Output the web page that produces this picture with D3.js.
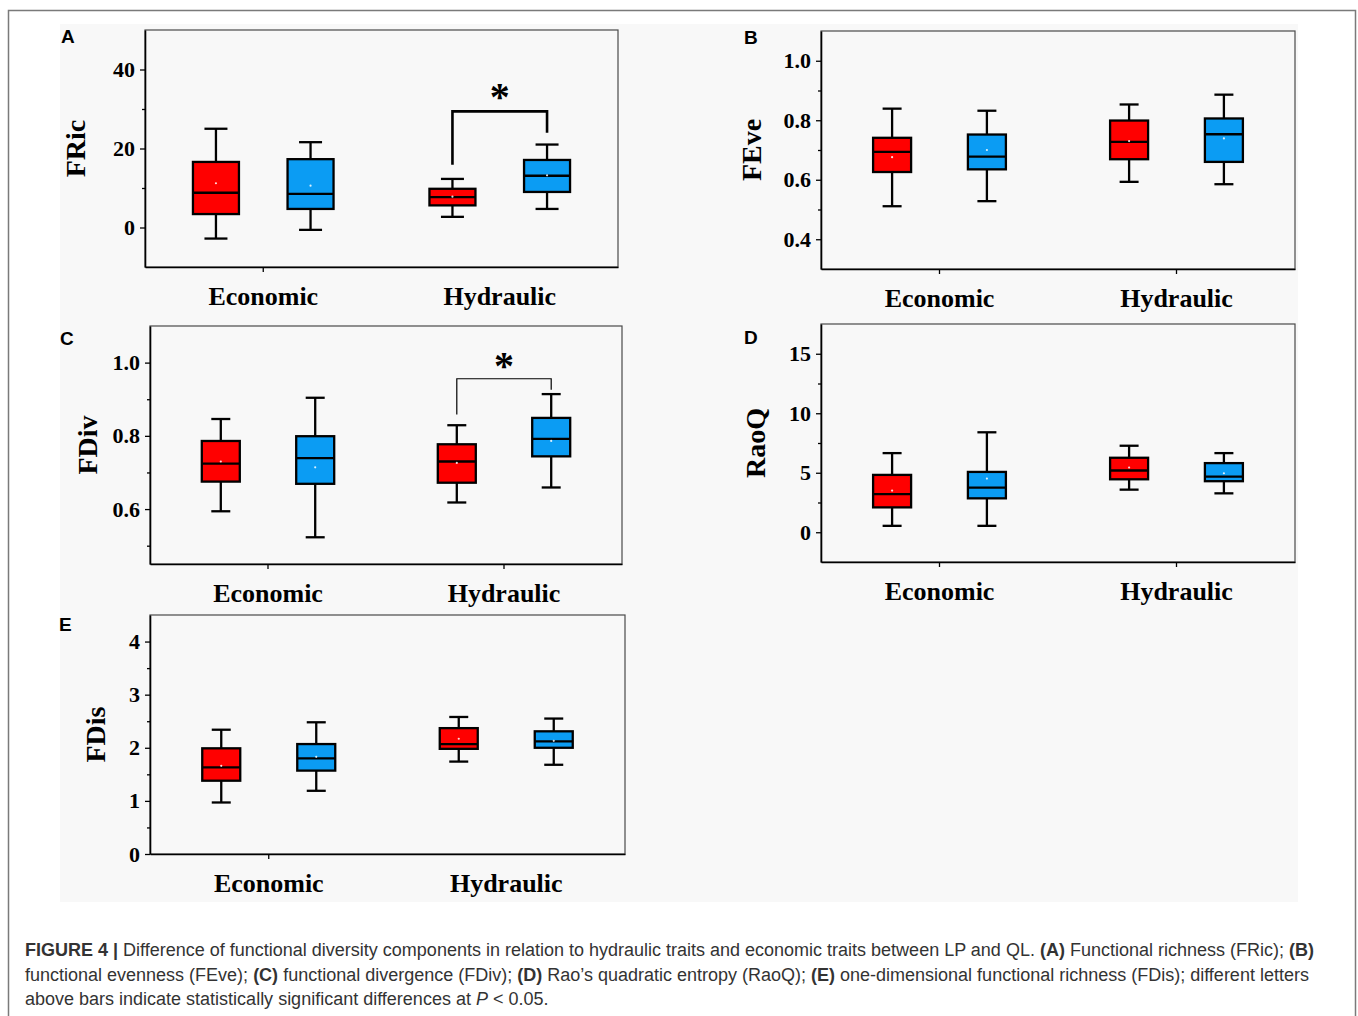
<!DOCTYPE html>
<html>
<head>
<meta charset="utf-8">
<script src="https://cdn.jsdelivr.net/npm/d3@7"></script>
<style>
  body { margin: 0; background: #fff; }
</style>
</head>
<body>
<svg id="fig" width="1358" height="1016"></svg>
<script>
// ---- data -----------------------------------------------------------
const categories = ["Economic", "Hydraulic"];
const sites = ["LP", "QL"];
const siteColors = ["#ff0000", "#0b9cf3"];

// Rows in order Economic-LP, Economic-QL, Hydraulic-LP, Hydraulic-QL.
// Each row: [lower whisker, Q1, median, Q3, upper whisker, mean]
const fricStats = [
  [-2.8, 3.4, 8.8, 16.6, 25.0, 11.2],
  [-0.6, 4.7, 8.5, 17.3, 21.6, 10.6],
  [2.7, 5.6, 7.7, 9.8, 12.3, 7.8],
  [4.7, 9.0, 13.1, 17.1, 21.0, 13.2]
];
const feveStats = [
  [0.511, 0.626, 0.694, 0.741, 0.839, 0.676],
  [0.528, 0.635, 0.678, 0.752, 0.832, 0.700],
  [0.593, 0.669, 0.727, 0.799, 0.853, 0.730],
  [0.585, 0.660, 0.753, 0.806, 0.886, 0.739]
];
const fdivStats = [
  [0.594, 0.675, 0.724, 0.786, 0.846, 0.730],
  [0.523, 0.669, 0.739, 0.799, 0.904, 0.714],
  [0.618, 0.672, 0.730, 0.777, 0.829, 0.726],
  [0.659, 0.744, 0.792, 0.849, 0.914, 0.786]
];
const raoqStats = [
  [0.54, 2.09, 3.21, 4.82, 6.65, 3.50],
  [0.54, 2.85, 3.75, 5.07, 8.40, 4.51],
  [3.58, 4.45, 5.19, 6.26, 7.27, 5.44],
  [3.27, 4.29, 4.68, 5.81, 6.65, 4.96]
];
const fdisStats = [
  [0.97, 1.38, 1.63, 1.99, 2.34, 1.66],
  [1.19, 1.57, 1.80, 2.07, 2.48, 1.83],
  [1.74, 1.98, 2.07, 2.37, 2.58, 2.17],
  [1.68, 2.00, 2.12, 2.31, 2.55, 2.13]
];

// axis ticks (major labelled, minor unlabelled)
const fricTicks = [0, 20, 40];
const fricMinor = [10, 30];
const feveTicks = [0.4, 0.6, 0.8, 1.0];
const feveMinor = [0.5, 0.7, 0.9];
const fdivTicks = [0.6, 0.8, 1.0];
const fdivMinor = [0.5, 0.7, 0.9];
const raoqTicks = [0, 5, 10, 15];
const raoqMinor = [2.5, 7.5, 12.5];
const fdisTicks = [0, 1, 2, 3, 4];
const fdisMinor = [0.5, 1.5, 2.5, 3.5];

// significance brackets: [left leg end, bar level, right leg end, star level]
const fricSignif = [15.9, 29.4, 24.0, 35.0];
const fdivSignif = [0.858, 0.956, 0.926, 1.012];

const captionLines = [
  [["b", "FIGURE 4 | "], ["n", "Difference of functional diversity components in relation to hydraulic traits and economic traits between LP and QL. "], ["b", "(A)"], ["n", " Functional richness (FRic); "], ["b", "(B)"]],
  [["n", "functional evenness (FEve); "], ["b", "(C)"], ["n", " functional divergence (FDiv); "], ["b", "(D)"], ["n", " Rao\u2019s quadratic entropy (RaoQ); "], ["b", "(E)"], ["n", " one-dimensional functional richness (FDis); different letters"]],
  [["n", "above bars indicate statistically significant differences at "], ["i", "P"], ["n", " < 0.05."]]
];

// ---- drawing --------------------------------------------------------
const SERIF = "'Liberation Serif', 'Times New Roman', serif";
const SANS = "'Liberation Sans', Arial, Helvetica, sans-serif";

const svg = d3.select("#fig");
svg.append("rect").attr("width", 1358).attr("height", 1016).attr("fill", "#fff");
// figure border
svg.append("path").attr("d", "M8.5,1016 V10.5 H1355.5 V1016")
  .attr("fill", "none").attr("stroke", "#7a7a7a").attr("stroke-width", 1.5);
// graphic area tint
svg.append("rect").attr("x", 60).attr("y", 24).attr("width", 1238).attr("height", 878)
  .attr("fill", "#f8f8f8");

const panels = [
  { letter: "A", letterPos: [61, 43], frame: [145, 30, 618, 267], domain: [-10, 50],
    ticks: fricTicks, minor: fricMinor, fmt: "d", stats: fricStats, boxW: 46,
    title: "FRic", titleX: 75, xTickMarks: ["Economic"], signif: fricSignif, signifW: 2.6 },
  { letter: "B", letterPos: [744, 44], frame: [821, 31, 1295, 269], domain: [0.3, 1.1],
    ticks: feveTicks, minor: feveMinor, fmt: ".1f", stats: feveStats, boxW: 38,
    title: "FEve", titleX: 751, xTickMarks: categories },
  { letter: "C", letterPos: [60, 345], frame: [150, 326, 622, 564], domain: [0.45, 1.1],
    ticks: fdivTicks, minor: fdivMinor, fmt: ".1f", stats: fdivStats, boxW: 38,
    title: "FDiv", titleX: 87, xTickMarks: categories, signif: fdivSignif, signifW: 1.2 },
  { letter: "D", letterPos: [744, 344], frame: [821, 324, 1295, 562], domain: [-2.5, 17.5],
    ticks: raoqTicks, minor: raoqMinor, fmt: "d", stats: raoqStats, boxW: 38,
    title: "RaoQ", titleX: 755, xTickMarks: categories },
  { letter: "E", letterPos: [59, 631], frame: [150, 615, 625, 854], domain: [0, 4.5],
    ticks: fdisTicks, minor: fdisMinor, fmt: "d", stats: fdisStats, boxW: 38,
    title: "FDis", titleX: 95, xTickMarks: ["Economic"] }
];

function drawPanel(p) {
  const [x0, y0, x1, y1] = p.frame;
  const W = x1 - x0;
  const g = svg.append("g");

  const x = d3.scaleBand().domain(categories).range([x0, x1]);
  const shift = d3.scalePoint().domain(sites).range([-0.1 * W, 0.1 * W]);
  const color = d3.scaleOrdinal().domain(sites).range(siteColors);
  const y = d3.scaleLinear().domain(p.domain).range([y1, y0]);

  // plot frame (top / right edges)
  g.append("rect").attr("x", x0).attr("y", y0).attr("width", W).attr("height", y1 - y0)
    .attr("fill", "none").attr("stroke", "#4a4a4a").attr("stroke-width", 1.2);

  // y axis
  const ya = g.append("g").attr("transform", `translate(${x0},0)`)
    .call(d3.axisLeft(y).tickValues(p.ticks).tickFormat(d3.format(p.fmt))
      .tickSizeInner(5).tickSizeOuter(0).tickPadding(5));
  ya.attr("font-family", SERIF).attr("font-size", 22).attr("font-weight", "bold");
  ya.select(".domain").attr("stroke", "#000").attr("stroke-width", 1.6);
  ya.selectAll(".tick line").attr("stroke-width", 1.3);
  ya.selectAll(".tick text").attr("fill", "#000");

  const ym = g.append("g").attr("transform", `translate(${x0},0)`)
    .call(d3.axisLeft(y).tickValues(p.minor).tickFormat("").tickSizeInner(3).tickSizeOuter(0));
  ym.select(".domain").remove();
  ym.selectAll(".tick line").attr("stroke-width", 1.3);

  // x axis
  const xa = g.append("g").attr("transform", `translate(0,${y1})`)
    .call(d3.axisBottom(x).tickSizeInner(5).tickSizeOuter(0).tickPadding(15));
  xa.attr("font-family", SERIF).attr("font-size", 26).attr("font-weight", "bold");
  xa.select(".domain").attr("stroke", "#000").attr("stroke-width", 1.6);
  xa.selectAll(".tick line").attr("stroke-width", 1.3)
    .attr("display", d => p.xTickMarks.includes(d) ? null : "none");
  xa.selectAll(".tick text").attr("fill", "#000");

  // y title
  g.append("text")
    .attr("transform", `translate(${p.titleX},${(y0 + y1) / 2}) rotate(-90)`)
    .attr("text-anchor", "middle").attr("dy", "0.35em")
    .attr("font-family", SERIF).attr("font-size", 28).attr("font-weight", "bold")
    .text(p.title);

  // panel letter
  g.append("text").attr("x", p.letterPos[0]).attr("y", p.letterPos[1])
    .attr("font-family", SANS).attr("font-size", 19).attr("font-weight", "bold")
    .text(p.letter);

  // boxes
  const rows = p.stats.map((s, i) => ({
    cat: categories[Math.floor(i / 2)], site: sites[i % 2],
    lo: s[0], q1: s[1], med: s[2], q3: s[3], hi: s[4], mean: s[5]
  }));
  const cx = d => x(d.cat) + x.bandwidth() / 2 + shift(d.site);
  const bw = p.boxW;
  const sw = 2.3;

  const box = g.selectAll(".box").data(rows).join("g").attr("class", "box");
  box.append("line")
    .attr("x1", cx).attr("x2", cx).attr("y1", d => y(d.hi)).attr("y2", d => y(d.lo))
    .attr("stroke", "#000").attr("stroke-width", sw);
  box.append("line")
    .attr("x1", d => cx(d) - bw / 4).attr("x2", d => cx(d) + bw / 4)
    .attr("y1", d => y(d.hi)).attr("y2", d => y(d.hi))
    .attr("stroke", "#000").attr("stroke-width", sw);
  box.append("line")
    .attr("x1", d => cx(d) - bw / 4).attr("x2", d => cx(d) + bw / 4)
    .attr("y1", d => y(d.lo)).attr("y2", d => y(d.lo))
    .attr("stroke", "#000").attr("stroke-width", sw);
  box.append("rect")
    .attr("x", d => cx(d) - bw / 2).attr("width", bw)
    .attr("y", d => y(d.q3)).attr("height", d => y(d.q1) - y(d.q3))
    .attr("fill", d => color(d.site)).attr("stroke", "#000").attr("stroke-width", sw);
  box.append("line")
    .attr("x1", d => cx(d) - bw / 2).attr("x2", d => cx(d) + bw / 2)
    .attr("y1", d => y(d.med)).attr("y2", d => y(d.med))
    .attr("stroke", "#000").attr("stroke-width", sw);
  box.append("circle")
    .attr("cx", cx).attr("cy", d => y(d.mean)).attr("r", 1.1)
    .attr("fill", "#fff").attr("opacity", 0.85);

  // significance bracket between LP and QL on hydraulic traits
  if (p.signif) {
    const [leftEnd, bar, rightEnd, star] = p.signif;
    const xl = x("Hydraulic") + x.bandwidth() / 2 + shift("LP");
    const xr = x("Hydraulic") + x.bandwidth() / 2 + shift("QL");
    g.append("path")
      .attr("d", `M${xl},${y(leftEnd)} V${y(bar)} H${xr} V${y(rightEnd)}`)
      .attr("fill", "none").attr("stroke", "#000").attr("stroke-width", p.signifW);
    g.append("text")
      .attr("x", (xl + xr) / 2).attr("y", y(star)).attr("dy", "0.52em")
      .attr("text-anchor", "middle")
      .attr("font-family", SERIF).attr("font-size", 40).attr("font-weight", "bold")
      .text("*");
  }
}

panels.forEach(drawPanel);

// ---- caption ------------------------------------------------------------
const capBaselines = [956, 980.5, 1005];
const cap = svg.append("g").attr("font-family", SANS).attr("fill", "#333");
const capTexts = captionLines.map((parts, i) => {
  const t = cap.append("text").attr("x", 25).attr("y", capBaselines[i]).attr("font-size", 17);
  parts.forEach(([style, str]) => {
    const ts = t.append("tspan").text(str);
    if (style === "b") ts.attr("font-weight", "bold");
    if (style === "i") ts.attr("font-style", "italic");
  });
  return t;
});
// size the caption so that the first line spans the figure width
const firstW = capTexts[0].node().getComputedTextLength();
const capSize = 17 * 1290 / firstW;
capTexts.forEach(t => t.attr("font-size", capSize));
</script>
</body>
</html>
